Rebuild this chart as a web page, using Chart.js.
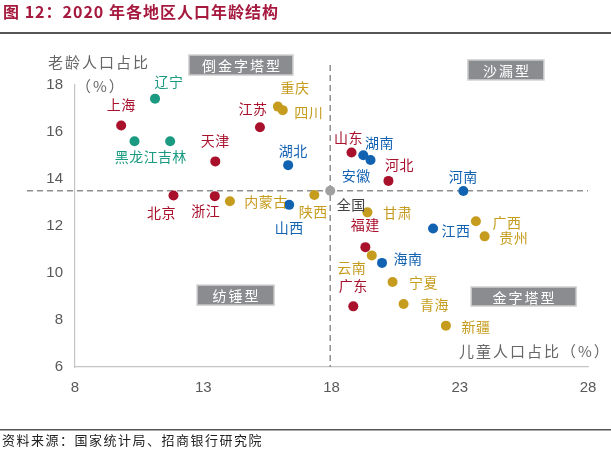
<!DOCTYPE html>
<html>
<head>
<meta charset="utf-8">
<script src="https://cdn.jsdelivr.net/npm/chart.js@4.4.1/dist/chart.umd.min.js"></script>
<style>
html,body{margin:0;padding:0;background:#fff;}
#wrap{width:611px;height:449px;position:relative;}
</style>
</head>
<body>
<div id="wrap"><canvas id="c" width="611" height="449"></canvas></div>
<script>
// ---- data ----
const regions = ['北京','天津','河北','山西','内蒙古','辽宁','吉林','黑龙江','上海','江苏','浙江','安徽','福建','江西','山东','河南','湖北','湖南','广东','广西','海南','重庆','四川','贵州','云南','陕西','甘肃','青海','宁夏','新疆'];
const childShare = [11.84,13.47,20.22,16.35,14.04,11.12,11.71,10.32,9.80,15.21,13.45,19.24,19.32,21.96,18.78,23.14,16.31,19.52,18.85,23.63,19.97,15.91,16.10,23.97,19.57,17.33,19.40,20.81,20.38,22.46];
const elderShare = [13.30,14.75,13.92,12.90,13.05,17.42,15.61,15.61,16.28,16.20,13.27,15.01,11.10,11.89,15.13,13.49,14.59,14.81,8.58,12.20,10.43,17.08,16.93,11.56,10.75,13.32,12.58,8.68,9.62,7.76];
const regionGroup = ['east','east','east','central','west','northeast','northeast','northeast','east','east','east','central','east','central','east','central','central','central','east','west','central','west','west','west','west','west','west','west','west','west'];
const nationalName = '全国';
const nationalChild = 17.95;
const nationalElder = 13.50;
const xTicks = [8,13,18,23,28];
const yTicks = [6,8,10,12,14,16,18];
const quadrantNames = ['倒金字塔型','沙漏型','纺锤型','金字塔型'];

// ---- styles ----
const groupColor = {east:'#A8102C', northeast:'#1A9A80', west:'#C69C1E', central:'#1262B2'};
const labelOffset = {
 '北京':[-12,17],'天津':[0,-21],'河北':[11,-16],'山西':[0,23],'内蒙古':[36,0],'辽宁':[14,-17],
 '吉林':[2,16],'黑龙江':[2,16],'上海':[0,-21],'江苏':[-7,-19],'浙江':[-9,15],'安徽':[-7,20],
 '福建':[0,-22],'江西':[23,2],'山东':[-3,-15],'河南':[0,-14],'湖北':[5,-14],'湖南':[9,-17],
 '广东':[0,-21],'广西':[31,1],'海南':[26,-4],'重庆':[17,-19],'四川':[26,3],'贵州':[29,1],
 '云南':[-20,12],'陕西':[-1,17],'甘肃':[30,0],'青海':[31,1],'宁夏':[31,1],'新疆':[30,1],
 '全国':[21,14]
};
// quadrant boxes anchored in data space: [x, y, width, height]
const quadrantBox = [[14.47,18.85,104,20],[24.80,18.64,76,20],[14.26,9.06,77,20],[25.49,9.0,105,19]];

const CJK = '"Noto Sans CJK SC","Noto Sans CJK JP",sans-serif';

const decor = {
  id:'decor',
  beforeDatasetsDraw(chart){
    const ctx = chart.ctx, xs = chart.scales.x, ys = chart.scales.y, a = chart.chartArea;
    const nx = xs.getPixelForValue(nationalChild), ny = ys.getPixelForValue(nationalElder);
    ctx.save();
    ctx.strokeStyle = '#8f8f8f'; ctx.lineWidth = 1.5; ctx.setLineDash([6,4]);
    ctx.beginPath(); ctx.moveTo(a.left-48, ny); ctx.lineTo(a.right, ny); ctx.stroke();
    ctx.beginPath(); ctx.moveTo(nx, a.top-20); ctx.lineTo(nx, a.bottom); ctx.stroke();
    ctx.setLineDash([]);
    // quadrant boxes
    ctx.font = '14px ' + CJK; ctx.textAlign='center'; ctx.textBaseline='middle';
    ctx.letterSpacing = '2px';
    quadrantNames.forEach((n,i)=>{
      const b = quadrantBox[i];
      const cx = xs.getPixelForValue(b[0]), cy = ys.getPixelForValue(b[1]);
      ctx.fillStyle = '#8a8c8f'; ctx.strokeStyle='#cfcfcf'; ctx.lineWidth=1.5;
      ctx.fillRect(cx-b[2]/2, cy-b[3]/2, b[2], b[3]);
      ctx.strokeRect(cx-b[2]/2, cy-b[3]/2, b[2], b[3]);
      ctx.fillStyle = '#ffffff';
      ctx.fillText(n, cx+1, cy+1);
    });
    ctx.restore();
  },
  afterDraw(chart){
    const ctx = chart.ctx;
    const meta0 = chart.getDatasetMeta(0), meta1 = chart.getDatasetMeta(1);
    ctx.save();
    ctx.textBaseline='middle';
    // title
    ctx.font = 'bold 16px ' + CJK; ctx.fillStyle = '#A6193E'; ctx.textAlign='left';
    ctx.letterSpacing = '1px';
    ctx.fillText('图 12：2020 年各地区人口年龄结构', 3, 12);
    ctx.fillStyle = '#555'; ctx.fillRect(0, 32, 611, 2);
    ctx.fillRect(0, 429, 611, 1.5);
    ctx.font = '13px ' + CJK; ctx.fillStyle = '#222'; ctx.letterSpacing='1.5px';
    ctx.fillText('资料来源：国家统计局、招商银行研究院', 2, 440);
    // axis titles
    ctx.font = '15px ' + CJK; ctx.fillStyle = '#666'; ctx.letterSpacing='2px';
    ctx.fillText('老龄人口占比', 48, 62);
    ctx.fillText('（%）', 76, 86);
    ctx.fillText('儿童人口占比（%）', 459, 351);
    // point labels
    ctx.font = '14px ' + CJK; ctx.textAlign='center'; ctx.letterSpacing='0.5px';
    regions.forEach((r,i)=>{
      const p = meta0.data[i], o = labelOffset[r] || [0,-16];
      ctx.fillStyle = groupColor[regionGroup[i]];
      ctx.fillText(r, p.x+o[0], p.y+o[1]);
    });
    const np = meta1.data[0], no = labelOffset[nationalName];
    ctx.fillStyle = '#444';
    ctx.fillText(nationalName, np.x+no[0], np.y+no[1]);
    ctx.restore();
  }
};

function build(){
  new Chart(document.getElementById('c'), {
    type:'scatter',
    data:{
      datasets:[
        {data: regions.map((r,i)=>({x:childShare[i], y:elderShare[i]})),
         backgroundColor: regionGroup.map(g=>groupColor[g]),
         borderWidth:0, pointRadius:5, pointHoverRadius:5},
        {data:[{x:nationalChild, y:nationalElder}], backgroundColor:'#a0a0a0', borderWidth:0, pointRadius:5}
      ]
    },
    options:{
      responsive:false, animation:false, devicePixelRatio:1,
      layout:{padding:{top:85, right:23, left:0, bottom:0}},
      plugins:{legend:{display:false}, tooltip:{enabled:false}},
      scales:{
        x:{type:'linear', min:8, max:28,
           afterBuildTicks(s){ s.ticks = xTicks.map(v=>({value:v})); },
           afterFit(s){ s.height = 82; },
           grid:{display:false, drawTicks:false},
           border:{display:true, color:'#c4c4c4', width:1.2},
           ticks:{color:'#595959', padding:12, font:{family:'"Liberation Sans",Arial,sans-serif', size:15}}},
        y:{type:'linear', min:6, max:18,
           afterBuildTicks(s){ s.ticks = yTicks.map(v=>({value:v})); },
           afterFit(s){ s.width = 75; },
           grid:{display:false, drawTicks:false},
           border:{display:true, color:'#c4c4c4', width:1.2},
           ticks:{color:'#595959', padding:12, font:{family:'"Liberation Sans",Arial,sans-serif', size:15}}}
      }
    },
    plugins:[decor]
  });
}
if (document.fonts && document.fonts.load) {
  Promise.all([document.fonts.load('14px "Noto Sans CJK SC"'), document.fonts.load('bold 16px "Noto Sans CJK SC"')]).then(build, build);
} else build();
</script>
</body>
</html>
